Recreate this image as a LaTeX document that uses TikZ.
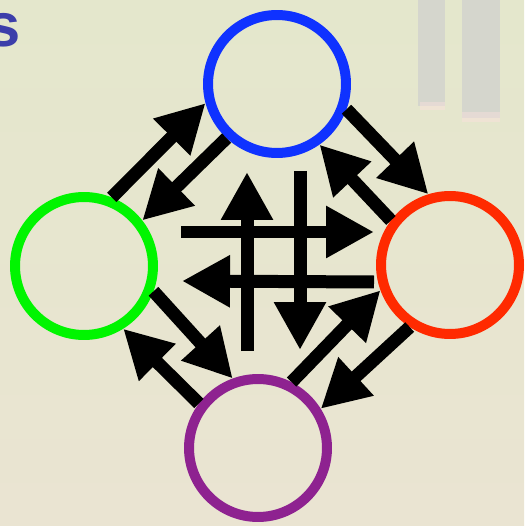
\documentclass[tikz,border=0pt]{standalone}
\usepackage{fontspec}
\newfontfamily\headfont{Liberation Sans}
\usetikzlibrary{arrows.meta}
\definecolor{ringblue}{RGB}{15,50,255}
\definecolor{ringgreen}{RGB}{0,245,0}
\definecolor{ringred}{RGB}{255,42,0}
\definecolor{ringpurple}{RGB}{142,34,144}
\definecolor{titleblue}{RGB}{60,62,170}
\definecolor{fieldtop}{RGB}{228,231,204}
\definecolor{fieldbottom}{RGB}{234,228,210}
\definecolor{post}{RGB}{210,210,206}
\begin{document}
\begin{tikzpicture}[x=0.02cm, y=-0.02cm, >={Triangle[length=0.96cm, width=0.98cm]},
    ring/.style={circle, draw=#1, line width=0.2cm, minimum size=2.76cm, inner sep=0pt},
    arr/.style={->, line width=0.26cm}]
        % Background
        \useasboundingbox (0,0) rectangle (524,526);
        \clip (0,0) rectangle (524,526);
        \shade[top color=fieldtop, bottom color=fieldbottom] (0,0) rectangle (524,526);
        \fill[post, opacity=0.8] (418,0) rectangle (445,106);
        \fill[post, opacity=0.8] (462,0) rectangle (500,118);
        \fill[red!12, opacity=0.4] (420,102) rectangle (445,110);
        \fill[red!12, opacity=0.4] (462,112) rectangle (500,122);
        \node[anchor=base east, inner sep=0pt, text=titleblue, font=\headfont\bfseries\fontsize{35}{40}\selectfont] (title) at (21,47) {s};

        % Rings
        \node[ring=ringblue] (blue) at (277,84) {};
        \node[ring=ringgreen] (green) at (84,266) {};
        \node[ring=ringred] (red) at (450,265) {};
        \node[ring=ringpurple] (purple) at (258,448) {};

        % Outer arrows
        \draw[arr] (green.68) -- (blue.195);
        \draw[arr] (blue.227) -- (green.38);
        \draw[arr] (blue.-20) -- (red.107);
        \draw[arr] (red.143) -- (blue.-55);
        \draw[arr] (red.237) -- (purple.32);
        \draw[arr] (purple.63) -- (red.200);
        \draw[arr] (purple.143) -- (green.-58);
        \draw[arr] (green.-20) -- (purple.110);

        % Crossing arrows
        \coordinate (r0) at (181,232);
        \coordinate (r1) at (374,232);
        \coordinate (l0) at (374,282);
        \coordinate (l1) at (182,281);
        \coordinate (u0) at (247,351);
        \coordinate (u1) at (247,172);
        \coordinate (d0) at (300,171);
        \coordinate (d1) at (300,350);
        \draw[arr] (u0) -- (u1);
        \draw[arr] (d0) -- (d1);
        \draw[arr] (r0) -- (r1);
        \draw[arr] (l0) -- (l1);
\end{tikzpicture}
\end{document}
